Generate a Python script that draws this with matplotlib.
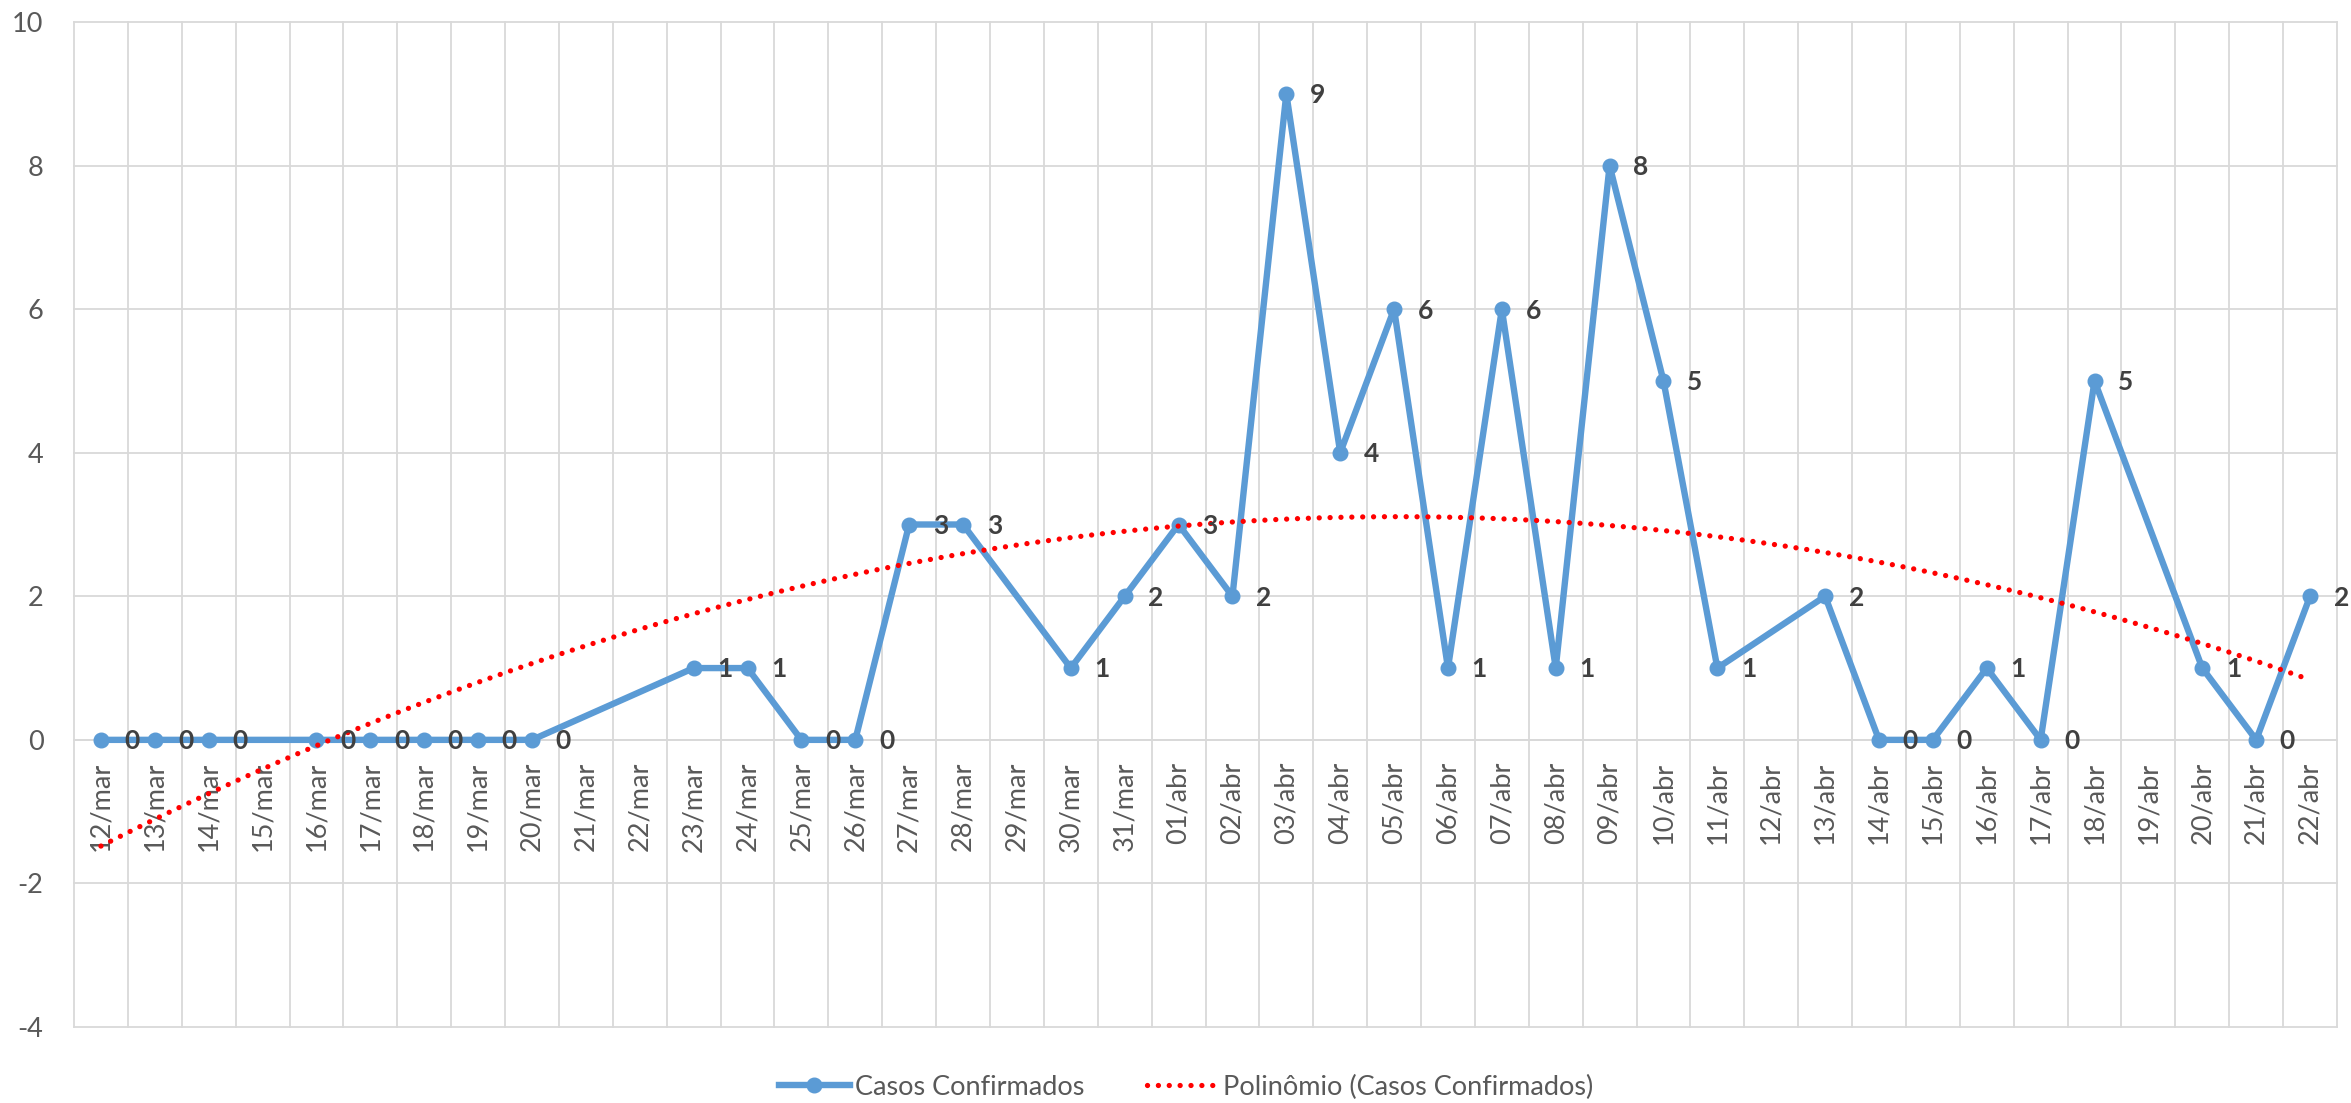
import numpy as np
import pandas as pd
import matplotlib
matplotlib.use("Agg")
import matplotlib.pyplot as plt

plt.rcParams['font.family'] = ['Lato', 'DejaVu Sans']
plt.rcParams['axes.unicode_minus'] = False

# axis runs over every day, data only exists on some of them
axis_start = "2020-03-12"
axis_end = "2020-04-22"
month_abbr = {3: "mar", 4: "abr"}

case_dates = ["2020-03-12", "2020-03-13", "2020-03-14", "2020-03-16", "2020-03-17",
              "2020-03-18", "2020-03-19", "2020-03-20", "2020-03-23", "2020-03-24",
              "2020-03-25", "2020-03-26", "2020-03-27", "2020-03-28", "2020-03-30",
              "2020-03-31", "2020-04-01", "2020-04-02", "2020-04-03", "2020-04-04",
              "2020-04-05", "2020-04-06", "2020-04-07", "2020-04-08", "2020-04-09",
              "2020-04-10", "2020-04-11", "2020-04-13", "2020-04-14", "2020-04-15",
              "2020-04-16", "2020-04-17", "2020-04-18", "2020-04-20", "2020-04-21",
              "2020-04-22"]
case_values = [0, 0, 0, 0, 0,
               0, 0, 0, 1, 1,
               0, 0, 3, 3, 1,
               2, 3, 2, 9, 4,
               6, 1, 6, 1, 8,
               5, 1, 2, 0, 0,
               1, 0, 5, 1, 0,
               2]

series_name = "Casos Confirmados"
trend_name = "Polinômio (Casos Confirmados)"
y_ticks = [-4, -2, 0, 2, 4, 6, 8, 10]

days = pd.date_range(axis_start, axis_end, freq="D")
day_labels = [f"{d.day:02d}/{month_abbr[d.month]}" for d in days]
x = np.array((pd.to_datetime(case_dates) - days[0]).days)
y = np.array(case_values)

# excel polynomial trendline (order 2)
coef = np.polyfit(x, y, 2)
xt = np.linspace(x.min(), x.max(), 300)
yt = np.polyval(coef, xt)

blue = "#5B9BD5"
grid_c = "#D9D9D9"
text_c = "#595959"

fig = plt.figure(figsize=(23.51, 11.03), dpi=100)
ax = fig.add_axes([74 / 2351, 1 - 1027 / 1103, (2337 - 74) / 2351, (1027 - 22) / 1103])

# axis crosses at zero, like excel - do this before touching the ticks
for side in ["top", "left", "right"]:
    ax.spines[side].set_visible(False)
ax.spines["bottom"].set_position(("data", 0))
ax.spines["bottom"].set_color(grid_c)
ax.spines["bottom"].set_linewidth(1.3)

ax.plot(x, y, color=blue, lw=4.6, marker="o", ms=10.5, zorder=3, label=series_name,
        solid_joinstyle="round")
ax.plot(xt, yt, color="#FF0000", lw=3.8, linestyle=(0, (0.01, 2.05)),
        dash_capstyle="round", zorder=4, label=trend_name)

for xi, yi in zip(x, y):
    ax.annotate(str(yi), (xi, yi), xytext=(17, -1), textcoords="offset points",
                ha="left", va="center", fontsize=19, fontweight="bold",
                color="#404040", zorder=5)

ax.set_xlim(-0.5, len(days) - 0.5)
ax.set_ylim(-4, 10)

ax.set_xticks(range(len(days)))
ax.set_xticklabels(day_labels, rotation=90, fontsize=19.5, color=text_c)
ax.set_xticks(np.arange(-0.5, len(days), 1), minor=True)
ax.set_yticks(y_ticks)
ax.set_yticklabels([str(v) for v in y_ticks], fontsize=19.5, color=text_c)

ax.tick_params(axis="x", which="both", length=0, pad=16)
ax.tick_params(axis="y", length=0, pad=22)

ax.grid(axis="y", which="major", color=grid_c, lw=1.3)
ax.grid(axis="x", which="minor", color=grid_c, lw=1.3)
for t in ax.yaxis.get_major_ticks() + ax.xaxis.get_minor_ticks():
    t.gridline.set_clip_on(False)
ax.set_axisbelow(True)

leg = fig.legend(loc="center", bbox_to_anchor=(1186 / 2351, 1 - 1087 / 1103), ncol=2,
                 frameon=False, fontsize=19.5, handlelength=2.6, handletextpad=0.2,
                 columnspacing=2.3)
for t in leg.get_texts():
    t.set_color(text_c)

fig.savefig("out.png", dpi=100)
plt.close(fig)
